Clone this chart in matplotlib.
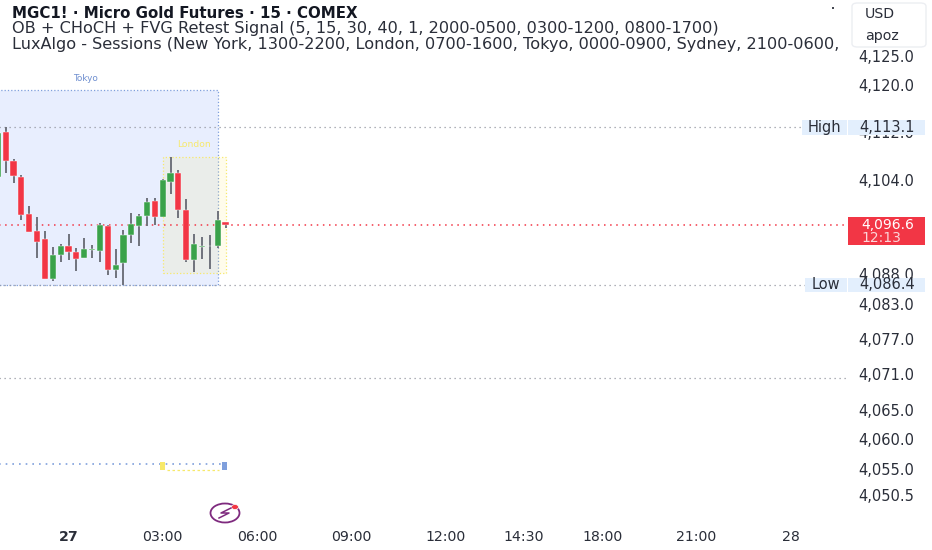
import matplotlib
matplotlib.use("Agg")
import matplotlib.pyplot as plt
from matplotlib.patches import Rectangle, Ellipse, FancyBboxPatch
from matplotlib.lines import Line2D
from matplotlib.transforms import blended_transform_factory

plt.rcParams['font.family'] = ['DejaVu Sans']
plt.rcParams['axes.axisbelow'] = True

W, H = 932, 550

# 15 minute candles, index 0 is 00:00 on the 27th
idx = list(range(-9, 21))
opens = [4104.7, 4112.3, 4107.4, 4104.6, 4098.4, 4095.55, 4094.1, 4087.35, 4091.4, 4093.0,
         4091.9, 4091.0, 4092.4, 4092.2, 4096.4, 4088.95, 4090.2, 4094.9, 4096.45, 4098.0,
         4100.7, 4097.9, 4103.8, 4105.3, 4099.15, 4090.6, 4092.9, 4092.95, 4093.05, 4097.1]
closes = [4112.1, 4107.45, 4104.9, 4098.25, 4095.4, 4093.7, 4087.35, 4091.5, 4093.0, 4092.0,
          4090.8, 4092.45, 4092.45, 4096.5, 4088.95, 4089.8, 4094.9, 4096.7, 4098.1, 4100.5,
          4097.9, 4104.1, 4105.3, 4099.1, 4090.6, 4093.3, 4092.9, 4092.95, 4097.35, 4096.6]
highs = [4113.1, 4113.1, 4107.8, 4105.0, 4099.8, 4097.9, 4095.55, 4092.9, 4093.35, 4095.0,
         4092.6, 4094.3, 4093.2, 4096.95, 4096.6, 4092.45, 4095.7, 4098.65, 4098.5, 4101.2,
         4101.2, 4104.35, 4108.1, 4105.9, 4101.0, 4095.0, 4094.5, 4094.9, 4098.9, 4097.1]
lows = [4104.7, 4105.3, 4103.6, 4097.4, 4095.4, 4090.9, 4087.35, 4087.0, 4090.35, 4090.6,
        4088.8, 4091.0, 4091.0, 4090.25, 4088.15, 4087.5, 4086.35, 4093.45, 4093.05, 4096.45,
        4096.6, 4097.9, 4101.75, 4097.8, 4090.35, 4088.65, 4090.75, 4089.05, 4092.6, 4096.1]

price_ticks = [4125, 4120, 4112, 4104, 4088, 4083, 4077, 4071, 4065, 4060, 4055, 4050.5]
time_pos = [0, 12, 24, 36, 48, 58, 68, 80, 92]
time_labels = ['27', '03:00', '06:00', '09:00', '12:00', '14:30', '18:00', '21:00', '28']

high_price = 4113.1
low_price = 4086.4
last_price = 4096.6
grid_price = 4070.6

title1 = 'MGC1! · Micro Gold Futures · 15 · COMEX'
title2 = 'OB + CHoCH + FVG Retest Signal (5, 15, 30, 40, 1, 2000-0500, 0300-1200, 0800-1700)'
title3 = 'LuxAlgo - Sessions (New York, 1300-2200, London, 0700-1600, Tokyo, 0000-0900, Sydney, 2100-0600,'

UP = '#3aa24a'
DOWN = '#f23645'
WICK = '#6f727c'
TEXT = '#2a2e39'
TAG = '#e3effd'
BLUE = '#7f9fdc'
YELLOW = '#f7e96b'

fig = plt.figure(figsize=(W / 100, H / 100), dpi=100)
ax = fig.add_axes([0, 27 / H, 848 / W, 523 / H])
ax.set_xlim((0 - 68.5) / 7.85, (848 - 68.5) / 7.85)
ax.set_ylim(4125 - 466 / 5.906, 4125 + 57 / 5.906)
for s in ax.spines.values():
    s.set_visible(False)

ax.yaxis.tick_right()
ax.set_yticks(price_ticks)
ax.set_yticklabels([f'{p:,.1f}' for p in price_ticks], fontsize=10.5, color=TEXT, va='center')
ax.set_xticks(time_pos)
ax.set_xticklabels(time_labels, fontsize=10.2, color=TEXT)
ax.get_xticklabels()[0].set_fontweight('bold')
ax.tick_params(axis='y', length=0, pad=7.5)
ax.tick_params(axis='x', length=0, pad=5)

# session boxes
tokyo_left, tokyo_right = -9.6, 19.0
london_left, london_right = 12.0, 20.0
ax.add_patch(Rectangle((tokyo_left, low_price), tokyo_right - tokyo_left, 4119.4 - low_price,
                       fc='#e8eefe', ec=BLUE, ls=':', lw=0.9, zorder=1))
ax.add_patch(Rectangle((london_left, 4088.4), london_right - london_left, 4108.1 - 4088.4,
                       fc=(1, 0.92, 0.23, 0.1), ec=YELLOW, ls=':', lw=0.9, zorder=1.2))
ax.text(2.1, 4121.4, 'Tokyo', fontsize=6.4, color='#6f8fd0', ha='center', va='center')
ax.text(16.0, 4110.1, 'London', fontsize=6.6, color=YELLOW, ha='center', va='center')

# horizontal levels
ax.hlines(high_price, tokyo_left, 94.3, color='#9598a1', ls=(0, (1, 3)), lw=0.9, zorder=1.5)
ax.hlines(low_price, tokyo_left, 94.0, color='#9598a1', ls=(0, (1, 3)), lw=0.9, zorder=1.5)
ax.hlines(grid_price, tokyo_left, 99.3, color='#9598a1', ls=(0, (1, 3)), lw=0.9, zorder=1.5)
ax.hlines(last_price, tokyo_left, 99.3, color=DOWN, ls=(0, (1, 3)), lw=1.1, zorder=1.5)

# session lows at the bottom of the chart
ax.hlines(4056.1, tokyo_left, 19.5, color=BLUE, ls=(0, (1, 3)), lw=1.2, zorder=1.5)
ax.hlines(4055.1, 12.5, 19.2, color=YELLOW, ls=(0, (2, 2)), lw=0.9, zorder=1.5)
ax.add_patch(Rectangle((11.6, 4055.1), 0.75, 1.35, fc=YELLOW, ec='none', zorder=2))
ax.add_patch(Rectangle((19.6, 4055.1), 0.65, 1.35, fc=BLUE, ec='none', zorder=2))

# candles
colors = [UP if c >= o else DOWN for o, c in zip(opens, closes)]
ax.vlines(idx, lows, highs, color=WICK, lw=1.4, zorder=3)
bottoms = [min(o, c) for o, c in zip(opens, closes)]
heights = [max(abs(c - o), 0.06) for o, c in zip(opens, closes)]
ax.bar(idx, heights, bottom=bottoms, width=0.78, color=colors, edgecolor='white', linewidth=0.3, zorder=4)

# price tags on the right
tr = blended_transform_factory(fig.transFigure, ax.transData)


def tag(x0, x1, y0, y1, color):
    ax.add_patch(Rectangle((x0 / W, y0), (x1 - x0) / W, y1 - y0, transform=tr, fc=color, ec='none',
                           clip_on=False, zorder=6))


def tag_text(px, price, s, color=TEXT, ha='center', **kw):
    ax.text(px / W, price, s, transform=tr, color=color, ha=ha, va='center', clip_on=False, zorder=7, **kw)


tag(802, 847, high_price - 1.25, high_price + 1.25, TAG)
tag(848, 925, high_price - 1.25, high_price + 1.25, TAG)
tag_text(824, high_price, 'High', fontsize=10.5)
tag_text(887, high_price, f'{high_price:,.1f}', fontsize=10.5)
tag(805, 847, low_price - 1.2, low_price + 1.2, TAG)
tag(848, 925, low_price - 1.2, low_price + 1.2, TAG)
tag_text(826, low_price, 'Low', fontsize=10.5)
tag_text(887, low_price, f'{low_price:,.1f}', fontsize=10.5)
tag(848, 925, 4093.2, 4097.9, DOWN)
tag_text(888, last_price, f'{last_price:,.1f}', color='white', fontsize=10)
tag_text(881, 4094.4, '12:13', color='#fbd5d9', fontsize=10)

# titles
fig.text(12 / W, 1 - 14 / H, title1, fontsize=10.8, fontweight='bold', color='#131722', va='center')
fig.text(12 / W, 1 - 29 / H, title2, fontsize=11.65, color=TEXT, va='center')
fig.text(12 / W, 1 - 44 / H, title3, fontsize=11.65, color=TEXT, va='center')
fig.add_artist(Ellipse((833 / W, 1 - 8 / H), 2 / W, 2 / H, transform=fig.transFigure, fc='#131722', ec='none'))

# currency box
fig.add_artist(FancyBboxPatch((852 / W, 1 - 47 / H), 74 / W, 44 / H, boxstyle='round,pad=0,rounding_size=0.006',
                              transform=fig.transFigure, fc='white', ec='#eceef2', lw=1))
fig.text(880 / W, 1 - 14 / H, 'USD', fontsize=10.2, color=TEXT, ha='center', va='center')
fig.text(882 / W, 1 - 36 / H, 'apoz', fontsize=10.2, color=TEXT, ha='center', va='center')

# lightning icon under the last candle
PURPLE = '#7e2a7e'
fig.add_artist(Ellipse((225 / W, 1 - 513 / H), 29 / W, 19 / H, transform=fig.transFigure,
                       fc='white', ec=PURPLE, lw=1.3))
fig.add_artist(Line2D([231 / W, 221 / W, 229 / W, 219 / W], [1 - 508 / H, 1 - 513 / H, 1 - 513 / H, 1 - 518 / H],
                      transform=fig.transFigure, color=PURPLE, lw=1.1))
fig.add_artist(Ellipse((235 / W, 1 - 507 / H), 7 / W, 5 / H, transform=fig.transFigure, fc=DOWN, ec='white', lw=0.5))

fig.savefig('out.png', dpi=100)
